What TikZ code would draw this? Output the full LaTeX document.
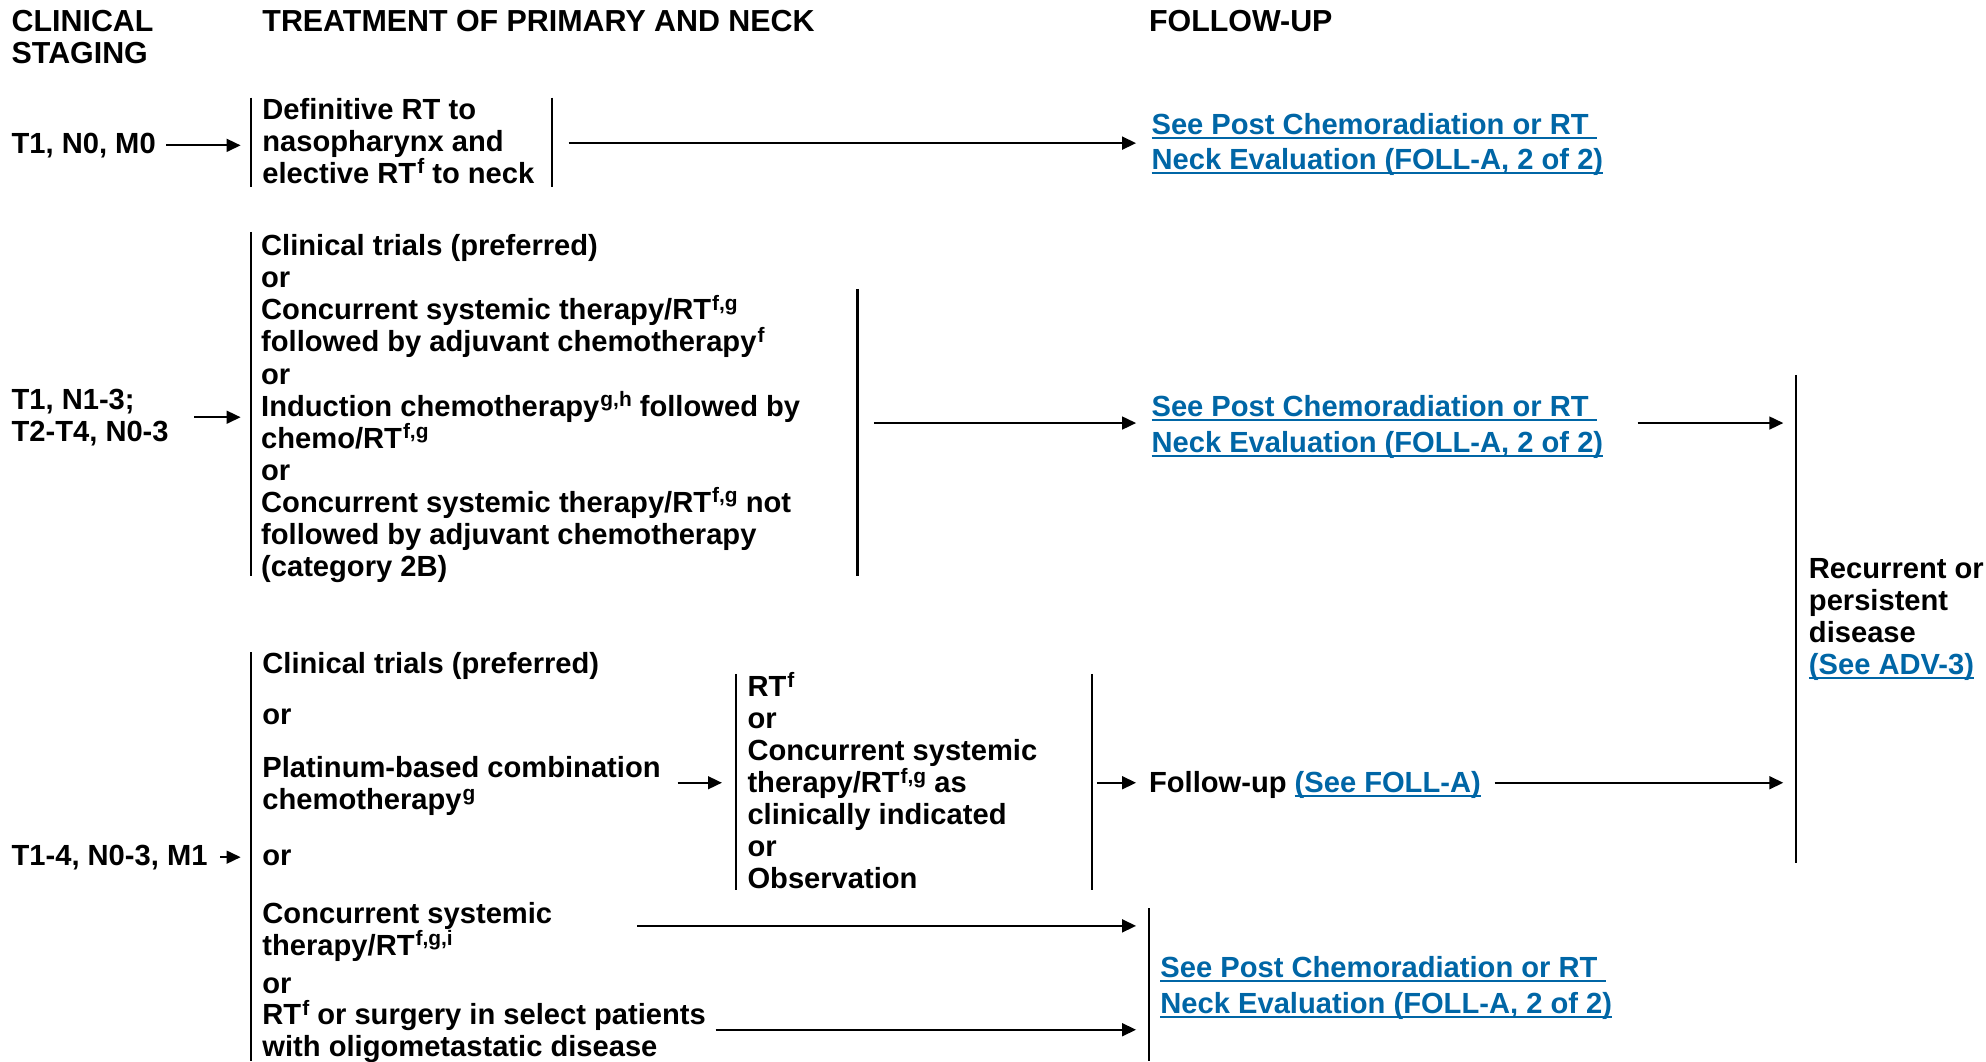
\documentclass[tikz,border=0pt]{standalone}
\usepackage{fontspec}
\setmainfont{Liberation Sans}
\usetikzlibrary{arrows.meta}
\definecolor{lnkblue}{RGB}{0,102,166}
\newcommand\sps[1]{\kern0.8pt\raisebox{7.5pt}{\fontsize{16.5}{16.5}\selectfont #1}}
\newcommand\lnk[1]{{\color{lnkblue}\setbox0\hbox{#1}\rlap{\rule[-3.5pt]{\wd0}{1.6pt}}\box0}}
\begin{document}
\begin{tikzpicture}[x=1pt,y=-1pt,
  txt/.style={anchor=base west, inner sep=0pt, align=left, font=\fontsize{23}{25.3}\selectfont\bfseries},
  hdr/.style={txt, font=\fontsize{24}{25}\selectfont\bfseries},
  lnktxt/.style={txt, font=\fontsize{23}{28}\selectfont\bfseries},
  arr/.style={line width=1.8pt, -{Triangle[length=11pt,width=10pt]}},
  bar/.style={line width=1.6pt}]
\useasboundingbox (0,0) rectangle (1568,838);

% headers (base anchor = baseline of last line)
\node[hdr] (h1) at (9,50) {CLINICAL\\STAGING};
\node[hdr] (h2) at (207,25) {TREATMENT OF PRIMARY AND NECK};
\node[hdr] (h3) at (907,25) {FOLLOW-UP};

% row 1
\node[txt] (s1) at (9,121) {T1, N0, M0};
\node[txt] (d1) at (207,144.6) {Definitive RT to\\nasopharynx and\\elective RT\sps{f} to neck};
\node[lnktxt] (l1) at (909,134) {\lnk{See Post Chemoradiation or RT }\\\lnk{Neck Evaluation (FOLL-A, 2 of 2)}};
\coordinate (a1s) at (449,113);
\coordinate (a1e) at (897,113);
\draw[bar] (198,77) -- (198,148);
\draw[bar] (436,77) -- (436,148);
\draw[arr] ([xshift=8pt]s1.east) -- (190,0 |- s1.east);
\draw[arr] (a1s) -- (a1e);

% row 2
\node[txt] (s2) at (9,348.3) {T1, N1-3;\\T2-T4, N0-3};
\node[txt] (d2) at (206,455) {Clinical trials (preferred)\\or\\Concurrent systemic therapy/RT\sps{f,g}\\followed by adjuvant chemotherapy\sps{f}\\or\\Induction chemotherapy\sps{g,h} followed by\\chemo/RT\sps{f,g}\\or\\Concurrent systemic therapy/RT\sps{f,g} not\\followed by adjuvant chemotherapy\\(category 2B)};
\node[lnktxt] (l2) at (909,357) {\lnk{See Post Chemoradiation or RT }\\\lnk{Neck Evaluation (FOLL-A, 2 of 2)}};
\node[txt] (rec) at (1428,532.9) {Recurrent or\\persistent\\disease\\\lnk{(See ADV-3)}};
\coordinate (a2s) at (690,334);
\coordinate (a2e) at (897,334);
\coordinate (a3s) at (1293,334);
\coordinate (a3e) at (1408,334);
\draw[bar] (198,183) -- (198,455);
\draw[bar] (677,228) -- (677,455);
\draw[bar] (1418,296) -- (1418,681);
\draw[arr] ([xshift=20pt]s2.east) -- (190,0 |- s2.east);
\draw[arr] (a2s) -- (a2e);
\draw[arr] (a3s) -- (a3e);

% row 3
\node[txt] (s3) at (9,683) {T1-4, N0-3, M1};
\node[txt] (ct3) at (207,532) {Clinical trials (preferred)};
\node[txt] (or1) at (207,572) {or};
\node[txt] (plat) at (207,639.3) {Platinum-based combination\\chemotherapy\sps{g}};
\node[txt] (or2) at (207,683) {or};
\node[txt] (conc) at (207,754.3) {Concurrent systemic\\therapy/RT\sps{f,g,i}};
\node[txt] (or3) at (207,784) {or};
\node[txt] (rts) at (207,834.3) {RT\sps{f} or surgery in select patients\\with oligometastatic disease};
\node[txt] (m3) at (590,701.8) {RT\sps{f}\\or\\Concurrent systemic\\therapy/RT\sps{f,g} as\\clinically indicated\\or\\Observation};
\node[txt] (fu) at (907,626) {Follow-up \lnk{(See FOLL-A)}};
\node[lnktxt] (l3) at (916,800) {\lnk{See Post Chemoradiation or RT }\\\lnk{Neck Evaluation (FOLL-A, 2 of 2)}};
\coordinate (a4s) at (535,618);
\coordinate (a4e) at (570,618);
\coordinate (a5s) at (866,618);
\coordinate (a5e) at (897,618);
\coordinate (a6s) at (1180,618);
\coordinate (a6e) at (1408,618);
\coordinate (a7s) at (503,731);
\coordinate (a7e) at (897,731);
\coordinate (a8s) at (565,813);
\coordinate (a8e) at (897,813);
\draw[bar] (198,515) -- (198,838);
\draw[bar] (581,532) -- (581,703);
\draw[bar] (862,532) -- (862,703);
\draw[bar] (907,717) -- (907,838);
\draw[arr] ([xshift=10pt]s3.east) -- (190,0 |- s3.east);
\draw[arr] (a4s) -- (a4e);
\draw[arr] (a5s) -- (a5e);
\draw[arr] (a6s) -- (a6e);
\draw[arr] (a7s) -- (a7e);
\draw[arr] (a8s) -- (a8e);
\end{tikzpicture}
\end{document}
